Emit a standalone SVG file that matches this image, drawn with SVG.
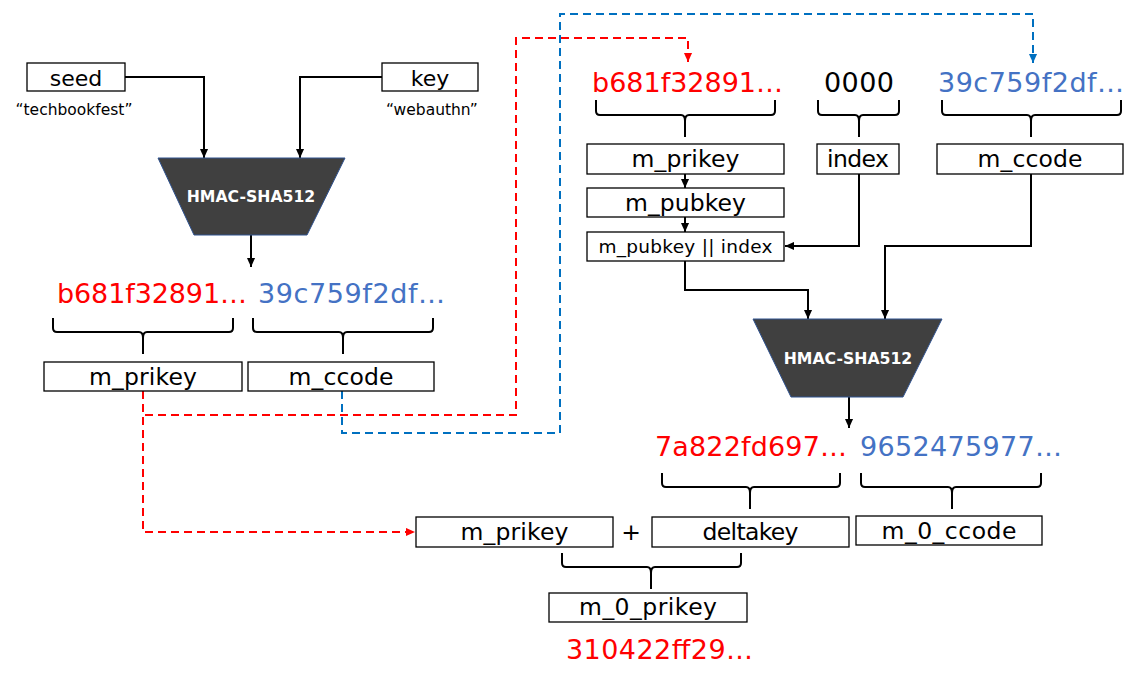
<svg xmlns="http://www.w3.org/2000/svg" width="1146" height="682" viewBox="0 0 1146 682">
<style>
.box{fill:#fff;stroke:#000;stroke-width:1.3}
.lbl{font-family:"DejaVu Sans",sans-serif;font-size:23.5px;text-anchor:middle;fill:#000}
.sm{font-family:"DejaVu Sans",sans-serif;font-size:15.5px;text-anchor:middle;fill:#000}
.hex{font-family:"DejaVu Sans",sans-serif;font-size:27px}
.red{fill:#FF0000}
.blue{fill:#4472C4}
.blk{fill:#000}
.trap{fill:#404040;stroke:#2F528F;stroke-width:1}
.trapt{font-family:"DejaVu Sans",sans-serif;font-weight:bold;font-size:15.7px;fill:#fff;text-anchor:middle}
.conn{fill:none;stroke:#000;stroke-width:2}
.dr{fill:none;stroke:#FF0000;stroke-width:2;stroke-dasharray:8 5}
.db{fill:none;stroke:#0070C0;stroke-width:2;stroke-dasharray:8 5}
.brace{fill:none;stroke:#000;stroke-width:2}
</style>
<defs>
<marker id="ab" viewBox="0 0 10 10" refX="10" refY="5" markerWidth="9" markerHeight="9" markerUnits="userSpaceOnUse" orient="auto"><path d="M0,0.5 L10,5 L0,9.5 z" fill="#000"/></marker>
<marker id="ar" viewBox="0 0 10 10" refX="10" refY="5" markerWidth="9" markerHeight="9" markerUnits="userSpaceOnUse" orient="auto"><path d="M0,0.5 L10,5 L0,9.5 z" fill="#FF0000"/></marker>
<marker id="abl" viewBox="0 0 10 10" refX="10" refY="5" markerWidth="9" markerHeight="9" markerUnits="userSpaceOnUse" orient="auto"><path d="M0,0.5 L10,5 L0,9.5 z" fill="#0070C0"/></marker>
</defs>

<g id="connectors">
<path class="conn" d="M125,77 H204 V158" marker-end="url(#ab)"/>
<path class="conn" d="M382,77 H300 V158" marker-end="url(#ab)"/>
<path class="conn" d="M251,235 V267" marker-end="url(#ab)"/>
<path class="conn" d="M685,174 V188" marker-end="url(#ab)"/>
<path class="conn" d="M685,217 V232" marker-end="url(#ab)"/>
<path class="conn" d="M859,174 V246 H785" marker-end="url(#ab)"/>
<path class="conn" d="M1031,174 V246 H885 V319" marker-end="url(#ab)"/>
<path class="conn" d="M685,261 V290 H808 V319" marker-end="url(#ab)"/>
<path class="conn" d="M849,397 V428" marker-end="url(#ab)"/>
<path class="dr" d="M143,391 V532 H415" marker-end="url(#ar)"/>
<path class="dr" d="M145,415 H516 V38 H688 V62" marker-end="url(#ar)"/>
<path class="db" d="M342,391 V433 H560 V14 H1033 V63" marker-end="url(#abl)"/>
</g>

<g id="braces">
<path class="brace" d="M53,318 V328 Q53,332 57,332 H139 Q143,332 143,338 V354 M233,318 V328 Q233,332 229,332 H147 Q143,332 143,338"/>
<path class="brace" d="M253,318 V328 Q253,332 257,332 H339 Q343,332 343,338 V354 M433,318 V328 Q433,332 429,332 H347 Q343,332 343,338"/>
<path class="brace" d="M596,100 V111 Q596,115 600,115 H681 Q685,115 685,121 V137 M775,100 V111 Q775,115 771,115 H689 Q685,115 685,121"/>
<path class="brace" d="M818,100 V111 Q818,115 822,115 H855 Q859,115 859,121 V137 M899,100 V111 Q899,115 895,115 H863 Q859,115 859,121"/>
<path class="brace" d="M942,100 V111 Q942,115 946,115 H1027 Q1031,115 1031,121 V137 M1121,100 V111 Q1121,115 1117,115 H1035 Q1031,115 1031,121"/>
<path class="brace" d="M662,473 V483 Q662,487 666,487 H746 Q750,487 750,493 V509 M840,473 V483 Q840,487 836,487 H754 Q750,487 750,493"/>
<path class="brace" d="M861,473 V483 Q861,487 865,487 H948 Q952,487 952,493 V509 M1041,473 V483 Q1041,487 1037,487 H956 Q952,487 952,493"/>
<path class="brace" d="M562,553 V563 Q562,567 566,567 H647 Q651,567 651,573 V589 M741,553 V563 Q741,567 737,567 H655 Q651,567 651,573"/>
</g>

<g id="seed"><rect class="box" x="27" y="63" width="98" height="28"/><text class="lbl" x="76" y="86" style="font-size:22px">seed</text><text class="sm" x="74" y="115">“techbookfest”</text></g>
<g id="key"><rect class="box" x="382" y="63" width="96" height="28"/><text class="lbl" x="430" y="86" style="font-size:22px">key</text><text class="sm" x="432" y="115">“webauthn”</text></g>
<g id="hmac1"><polygon class="trap" points="158,158 345,158 307,235 194,235"/><text class="trapt" x="251" y="202">HMAC-SHA512</text></g>
<g id="hex-prikey-1"><text class="hex red" x="57" y="303" textLength="190">b681f32891…</text></g>
<g id="hex-ccode-1"><text class="hex blue" x="258" y="303" textLength="187">39c759f2df…</text></g>
<g id="m_prikey-1"><rect class="box" x="44" y="362" width="198" height="29"/><text class="lbl" x="143" y="385" textLength="108">m_prikey</text></g>
<g id="m_ccode-1"><rect class="box" x="248" y="362" width="186" height="29"/><text class="lbl" x="341" y="385" textLength="105">m_ccode</text></g>

<g id="hex-prikey-2"><text class="hex red" x="592" y="92" textLength="191">b681f32891…</text></g>
<g id="hex-index"><text class="hex blk" x="824" y="92" textLength="70">0000</text></g>
<g id="hex-ccode-2"><text class="hex blue" x="938" y="92" textLength="186">39c759f2df…</text></g>
<g id="m_prikey-2"><rect class="box" x="587" y="144" width="197" height="30"/><text class="lbl" x="685.5" y="167" textLength="108">m_prikey</text></g>
<g id="index"><rect class="box" x="817" y="144" width="82" height="30"/><text class="lbl" x="858" y="167" textLength="62">index</text></g>
<g id="m_ccode-2"><rect class="box" x="937" y="144" width="186" height="30"/><text class="lbl" x="1030" y="167" textLength="105">m_ccode</text></g>
<g id="m_pubkey"><rect class="box" x="587" y="188" width="197" height="29"/><text class="lbl" x="685.5" y="211" textLength="121">m_pubkey</text></g>
<g id="concat"><rect class="box" x="587" y="232" width="197" height="29"/><text class="lbl" x="685.5" y="253" style="font-size:18.5px" textLength="174">m_pubkey || index</text></g>
<g id="hmac2"><polygon class="trap" points="753,319 942,319 903,397 791,397"/><text class="trapt" x="848" y="364">HMAC-SHA512</text></g>
<g id="hex-delta"><text class="hex red" x="655" y="456" textLength="192">7a822fd697…</text></g>
<g id="hex-ccode-3"><text class="hex blue" x="860" y="456" textLength="202">9652475977…</text></g>
<g id="m_prikey-3"><rect class="box" x="416" y="517" width="197" height="30"/><text class="lbl" x="514.5" y="540" textLength="108">m_prikey</text></g>
<g id="plus"><text class="lbl" x="631" y="540">+</text></g>
<g id="deltakey"><rect class="box" x="652" y="517" width="197" height="30"/><text class="lbl" x="750.5" y="540" textLength="96">deltakey</text></g>
<g id="m_0_ccode"><rect class="box" x="856" y="516" width="186" height="29"/><text class="lbl" x="949" y="539" textLength="135">m_0_ccode</text></g>
<g id="m_0_prikey"><rect class="box" x="549" y="593" width="198" height="29"/><text class="lbl" x="648" y="615" textLength="138">m_0_prikey</text></g>
<g id="hex-result"><text class="hex red" x="566" y="659" textLength="187">310422ff29…</text></g>
</svg>
